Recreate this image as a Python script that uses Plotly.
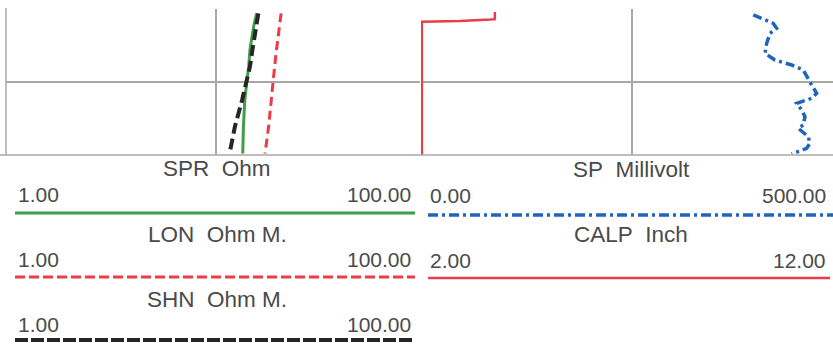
import plotly.graph_objects as go

# ---- data (depth in m, top of view ~1190) ----
depth_res = [1190.6, 1192.4, 1195.6, 1197.9, 1200.0, 1202.5, 1206.1, 1209.8]
spr = [15.6, 15.1, 14.5, 14.3, 14.0, 13.7, 13.5, 13.4]
lon = [20.4, 20.0, 19.4, 19.0, 18.7, 18.2, 17.8, 17.1]
shn = [15.9, 15.5, 14.9, 14.5, 14.0, 13.3, 12.3, 11.6]

depth_calp = [1190.4, 1191.4, 1191.45, 1191.65, 1191.75, 1210.0]
calp = [3.75, 3.75, 3.64, 2.92, 2.02, 2.02]

depth_sp = [1190.82, 1191.96, 1192.64, 1193.33, 1194.70, 1196.07, 1196.99, 1197.67,
            1198.36, 1199.73, 1200.41, 1201.55, 1202.23, 1202.92, 1203.84, 1204.75,
            1205.89, 1206.34, 1207.49, 1208.40, 1209.08, 1209.86]
sp = [393.7, 417.4, 421.4, 413.5, 409.6, 407.6, 419.4, 439.2, 453.0, 458.9, 462.9,
      468.8, 462.9, 445.1, 451.1, 455.0, 453.0, 447.0, 458.9, 460.9, 457.0, 439.2]

curve_names = ["SPR  Ohm", "LON  Ohm M.", "SHN  Ohm M.", "SP  Millivolt", "CALP  Inch"]
scale_left = ["1.00", "1.00", "1.00", "0.00", "2.00"]
scale_right = ["100.00", "100.00", "100.00", "500.00", "12.00"]

W, H = 833, 344
GREEN = "#3f9e4a"
RED = "#ea3d45"
BLACK = "#262626"
BLUE = "#1f64bd"
GRID = "#a8a8a8"
TXT = "#4a4a4a"

def px(x):
    return x / W

def py(y):
    return 1 - y / H

fig = go.Figure()
fig.add_trace(go.Scatter(x=spr, y=depth_res, mode="lines", xaxis="x", yaxis="y",
                         line=dict(color=GREEN, width=3)))
fig.add_trace(go.Scatter(x=lon, y=depth_res, mode="lines", xaxis="x", yaxis="y",
                         line=dict(color=RED, width=3, dash="9px,5px")))
fig.add_trace(go.Scatter(x=shn, y=depth_res, mode="lines", xaxis="x", yaxis="y",
                         line=dict(color=BLACK, width=4, dash="11px,5px")))
fig.add_trace(go.Scatter(x=calp, y=depth_calp, mode="lines", xaxis="x2", yaxis="y",
                         line=dict(color=RED, width=2.5)))
fig.add_trace(go.Scatter(x=sp, y=depth_sp, mode="lines", xaxis="x3", yaxis="y",
                         line=dict(color=BLUE, width=3.5, dash="9px,4px,3px,4px")))

ydom = [py(155), py(9)]
fig.update_layout(
    width=W, height=H, margin=dict(l=0, r=0, t=0, b=0),
    paper_bgcolor="white", plot_bgcolor="white", showlegend=False,
    xaxis=dict(type="log", range=[0, 1.971], domain=[px(6), px(420)],
               tickvals=[10], showticklabels=False, showgrid=True,
               gridcolor=GRID, gridwidth=1.5, zeroline=False, ticks=""),
    xaxis2=dict(range=[2, 11.763], domain=[px(421), 1], anchor="y",
                tickvals=[7], showticklabels=False, showgrid=True,
                gridcolor=GRID, gridwidth=1.5, zeroline=False, ticks=""),
    xaxis3=dict(range=[0, 488.2], overlaying="x2", anchor="y",
                showticklabels=False, showgrid=False, zeroline=False, ticks=""),
    yaxis=dict(range=[1210, 1190], domain=ydom, tickvals=[1200],
               showticklabels=False, showgrid=True, gridcolor=GRID, gridwidth=1.5,
               zeroline=False, ticks=""),
)

shapes = []
# track borders
shapes.append(dict(type="line", xref="paper", yref="paper", x0=px(6), x1=px(6),
                   y0=py(155), y1=py(8), line=dict(color=GRID, width=1.5)))
shapes.append(dict(type="line", xref="paper", yref="paper", x0=px(0), x1=1,
                   y0=py(155), y1=py(155), line=dict(color=GRID, width=1.5)))

# legend sample lines
leg = [
    (15, 415, 213, GREEN, 3, "solid"),
    (15, 415, 277, RED, 3, "10px,4px"),
    (15, 415, 340, BLACK, 4, "13px,3px"),
    (428, 833, 215, BLUE, 3.5, "10px,4px,3px,4px"),
    (428, 830, 278, RED, 2.5, "solid"),
]
for x0, x1, y, c, w, d in leg:
    shapes.append(dict(type="line", xref="paper", yref="paper", x0=px(x0), x1=px(x1),
                       y0=py(y), y1=py(y), line=dict(color=c, width=w, dash=d)))
fig.update_layout(shapes=shapes)

num_font = dict(family="Liberation Sans, Arial, sans-serif", size=21, color=TXT)
title_font = dict(family="Liberation Sans, Arial, sans-serif", size=22.5, color=TXT)
ann = []
# (name idx, center x, title y, left x, right x, scale y)
pos = [
    (0, 217, 168, 16, 413, 194),
    (1, 217, 234, 16, 413, 259),
    (2, 217, 299, 16, 413, 324),
    (3, 631, 169, 428, 828, 195),
    (4, 631, 234, 428, 828, 260),
]
for i, cx, ty, lx, rx, sy in pos:
    ann.append(dict(text=curve_names[i].replace("  ", "\u00a0\u00a0"), x=px(cx), y=py(ty),
                    xref="paper", yref="paper", xanchor="center", yanchor="middle",
                    showarrow=False, font=title_font))
    ann.append(dict(text=scale_left[i], x=px(lx), y=py(sy), xref="paper", yref="paper",
                    xanchor="left", yanchor="middle", showarrow=False, font=num_font))
    ann.append(dict(text=scale_right[i], x=px(rx), y=py(sy), xref="paper", yref="paper",
                    xanchor="right", yanchor="middle", showarrow=False, font=num_font))
fig.update_layout(annotations=ann)

fig.write_html("out.html", config={"displayModeBar": False},
               post_script="document.body.style.margin='0';document.body.style.overflow='hidden';")
